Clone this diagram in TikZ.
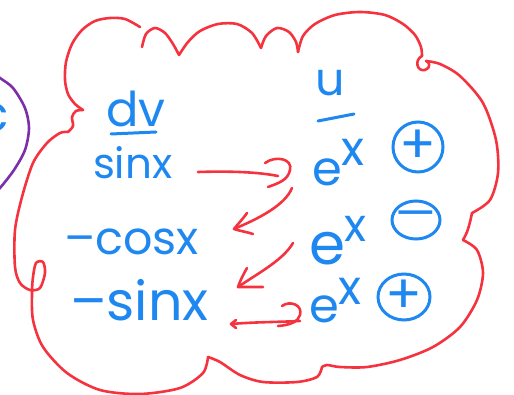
\documentclass[tikz,border=0pt]{standalone}
\usepackage{fontspec}
\setmainfont{Poppins}
\definecolor{ink}{HTML}{1E88F0}
\definecolor{pen}{HTML}{F5333F}
\definecolor{cpurple}{HTML}{7B2FA8}
\tikzset{
  redline/.style={draw=pen, line width=2.6pt, line cap=round, line join=round},
  purpleline/.style={draw=cpurple, line width=2.6pt, line cap=round},
  blueline/.style={draw=ink, line width=3pt, line cap=round},
  ring/.style={draw=ink, line width=3pt},
  word/.style={text=ink, inner sep=0pt, outer sep=0pt, anchor=base west},
  sign/.style={text=ink, inner sep=0pt, outer sep=0pt},
}
\newcommand{\fs}[1]{\fontsize{#1}{#1}\selectfont}
\begin{document}
\begin{tikzpicture}[x=1pt,y=-1pt]
\useasboundingbox (0,0) rectangle (514,395);
\clip (0,0) rectangle (514,395);

% neighbouring bubble on the left
\draw[purpleline] plot[smooth] coordinates {(-8,72) (0,78) (13,88) (25,108) (29,128) (25,150) (14,170) (0,188) (-8,196)};
\node[word, anchor=east, font=\fs{50}] (cl) at (9,118) {c};

% cloud outline, lobe by lobe
\draw[redline] plot[smooth] coordinates {(142,47) (146,34) (155,28) (165,33) (173,44) (179,55)};
\draw[redline] plot[smooth] coordinates {(179,55) (188,42) (200,31) (218,24) (237,24) (252,33) (261,48)};
\draw[redline] plot[smooth] coordinates {(261,48) (266,36) (277,28) (289,32) (296,42) (298,52)};
\draw[redline] plot[smooth] coordinates {(298,52) (303,36) (315,24) (335,15) (360,12) (385,15) (403,24) (415,35) (421,47) (422,56)};
\draw[redline] (422,56) .. controls (414,60) and (417,72) .. (425,70) .. controls (431,68) and (430,62) .. (426,61);
\draw[redline] plot[smooth] coordinates {(426,61) (440,64) (460,76) (483,103) (496,140) (498,173) (490,200) (472,213)};
\draw[redline] plot[smooth] coordinates {(472,213) (470,222) (467,232) (463,240)};
\draw[redline] plot[smooth] coordinates {(463,240) (477,250) (483,273) (477,300) (460,327) (433,347) (400,360) (367,367) (340,367) (327,365) (322,367)};
\draw[redline] plot[smooth] coordinates {(322,367) (317,377) (297,382) (263,382) (240,375) (220,362) (208,357)};
\draw[redline] plot[smooth] coordinates {(208,357) (203,373) (180,388) (140,394) (100,390) (67,373) (43,347) (33,320) (32,293) (33,277) (36,263) (43,262) (45,273) (40,288) (30,290) (20,283) (15,267) (15,230) (22,197) (33,163) (47,143) (60,133) (68,132)};
\draw[redline] plot[smooth] coordinates {(68,132) (73,126) (72,117) (76,111) (83,110)};
\draw[redline] plot[smooth] coordinates {(83,110) (75,104) (68,94) (65,80) (66,62) (72,44) (82,30) (95,21) (110,18) (125,19) (140,27)};

% column heads
\node[word, font=\fs{48}] (dv) at (106,127) {dv};
\draw[blueline] (111,134) -- (156,132);
\node[word, font=\fs{46}] (u) at (315,96) {u};
\draw[blueline] (318,121) -- (354,114);

% left column
\node[word, font=\fs{42}] (s1) at (93,179) {sinx};
\node[word, font=\fs{46}] (c1) at (64,255) {–cosx};
\node[word, font=\fs{54}] (s2) at (70,320) {–sinx};

% right column
\node[word, font=\fs{48}] (e1) at (312,186) {e\raisebox{0.42em}{x}};
\node[word, font=\fs{58}] (e2) at (309,265) {e\raisebox{0.4em}{\fs{46}x}};
\node[word, font=\fs{48}] (e3) at (309,323) {e\raisebox{0.38em}{x}};

% signs
\node[sign, font=\fs{54}] (p1) at (418,147) {+};
\draw[ring] (p1.center) ellipse [x radius=25, y radius=25];
\node[sign, font=\fs{46}] (m1) at (416,220) {—};
\draw[ring] (m1.center) ellipse [x radius=24, y radius=19];
\node[sign, font=\fs{54}] (p2) at (404,297) {+};
\draw[ring] (p2.center) ellipse [x radius=26, y radius=23];

% arrows between the columns
\coordinate (a1s) at (198,172);
\coordinate (a1e) at (278,176);
\draw[redline] (a1s) .. controls (230,171) and (258,172) .. (a1e);
\draw[redline] (265,163) .. controls (276,155) and (293,159) .. (290,170) .. controls (288,180) and (279,183) .. (268,187);

\coordinate (a2s) at (292,188);
\coordinate (a2e) at (234,229);
\draw[redline] (a2s) .. controls (285,205) and (260,218) .. (a2e);
\draw[redline] (247,213) .. controls (242,220) and (237,225) .. (a2e) .. controls (240,231) and (247,232) .. (253,234);

\coordinate (a3s) at (293,243);
\coordinate (a3e) at (238,287);
\draw[redline] (a3s) .. controls (283,260) and (260,272) .. (a3e);
\draw[redline] (247,268) .. controls (243,275) and (240,281) .. (a3e) .. controls (246,287) and (255,287) .. (263,287);

\coordinate (a4s) at (231,324);
\coordinate (a4e) at (300,321);
\draw[redline] (a4s) .. controls (255,322) and (280,322) .. (a4e);
\draw[redline] (236,320) -- (a4s) -- (236,328);
\draw[redline] (282,306) .. controls (290,300) and (303,305) .. (300,315) .. controls (298,322) and (290,325) .. (278,326);
\end{tikzpicture}
\end{document}
